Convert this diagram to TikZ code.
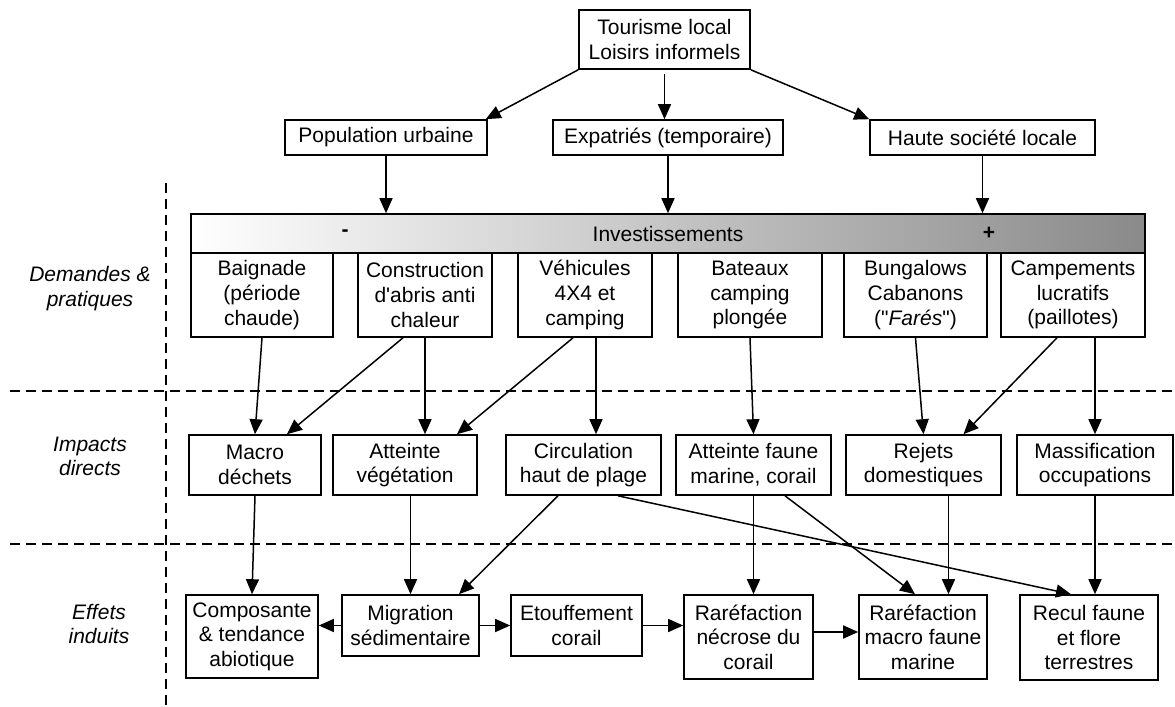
\documentclass[tikz,border=0pt]{standalone}
\usepackage{fontspec}
\newfontfamily\arial{Liberation Sans}
\usepackage{tikz}
\usetikzlibrary{arrows.meta}
\definecolor{BarGray}{HTML}{8A8A8A}

\begin{document}
\begin{tikzpicture}[
        x=0.5pt, y=-0.5pt,
        every node/.style={font=\arial\fontsize{10.5}{12.3}\selectfont},
        box/.style={draw,line width=0.8pt,align=center,inner sep=1pt},
        rowb/.style={box,minimum height=17.5pt},
        rowc/.style={box,minimum height=42pt},
        rowd/.style={box,minimum height=30pt},
        tag/.style={align=center,font=\arial\itshape\fontsize{10.5}{12.3}\selectfont},
        arrow/.style={-{Triangle[length=7.5pt,width=6.5pt]},line width=0.75pt},
        sep/.style={dash pattern=on 5pt off 3pt,line width=0.6pt}
      ]
      \useasboundingbox (0,0) rectangle (1175,707);

      \node[box,minimum width=85.5pt,minimum height=29.5pt] (tour) at (664.5,39.5) {Tourisme local\\Loisirs informels};
      \node[rowb,minimum width=101pt] (pop) at (386,137.5) {Population urbaine};
      \node[rowb,minimum width=115pt] (expat) at (668,137.5) {Expatriés (temporaire)};
      \node[rowb,minimum width=112.5pt] (haute) at (982.5,137.5) {Haute société locale};

      \node[box,left color=white,right color=BarGray,minimum width=477pt,minimum height=19.5pt] (invest) at (668,233.5) {Investissements};
      \node (moins) at (345,233.5) {\textbf{-}};
      \node (plus) at (989,233.5) {\textbf{+}};

      \node[rowc,minimum width=71pt] (baign) at (262,295) {Baignade\\(période\\chaude)};
      \node[rowc,minimum width=67pt] (constr) at (425,295) {Construction\\d'abris anti\\chaleur};
      \node[rowc,minimum width=67pt] (vehic) at (585,295) {Véhicules\\4X4 et\\camping};
      \node[rowc,minimum width=72pt] (bateau) at (750,295) {Bateaux\\camping\\plongée};
      \node[rowc,minimum width=71.5pt] (bung) at (915.5,295) {Bungalows\\Cabanons\\("\textit{Farés}")};
      \node[rowc,minimum width=72pt] (camp) at (1073,295) {Campements\\lucratifs\\(paillotes)};

      \node[rowd,minimum width=66pt] (macro) at (255,465) {Macro\\déchets};
      \node[rowd,minimum width=72pt] (vege) at (405,465) {Atteinte\\végétation};
      \node[rowd,minimum width=77.5pt] (circ) at (583.5,465) {Circulation\\haut de plage};
      \node[rowd,minimum width=77.5pt] (faune) at (753.5,465) {Atteinte faune\\marine, corail};
      \node[rowd,minimum width=77.5pt] (rejets) at (923.5,465) {Rejets\\domestiques};
      \node[rowd,minimum width=78pt] (massif) at (1095,465) {Massification\\occupations};

      \node[box,minimum width=66pt,minimum height=41.5pt] (comp) at (252,636.5) {Composante\\\& tendance\\abiotique};
      \node[box,minimum width=68.5pt,minimum height=30.5pt] (migr) at (410.5,625.5) {Migration\\sédimentaire};
      \node[box,minimum width=65.5pt,minimum height=30.5pt] (etouf) at (576.5,625.5) {Etouffement\\corail};
      \node[box,minimum width=64.5pt,minimum height=42pt] (rar1) at (748.5,637) {Raréfaction\\nécrose du\\corail};
      \node[box,minimum width=64pt,minimum height=42pt] (rar2) at (923,637) {Raréfaction\\macro faune\\marine};
      \node[box,minimum width=69pt,minimum height=42.5pt] (recul) at (1089,637.5) {Recul faune\\et flore\\terrestres};

      \node[tag] (demandes) at (90,288.5) {Demandes \&\\pratiques};
      \node[tag] (impacts) at (90,456.5) {Impacts\\directs};
      \node[tag] (effets) at (99,624) {Effets\\induits};

      \draw[sep] (10,391) -- (1175,391);
      \draw[sep] (10,544) -- (1175,544);
      \draw[sep] (166,183) -- (166,707);

      \draw[arrow] (tour.south west) -- ([xshift=-1pt]pop.north east);
      \draw[arrow] ([yshift=-2pt]tour.south) -- (tour.south |- expat.north);
      \draw[arrow] (tour.south east) -- (haute.north west);

      \draw[arrow] (pop.south) -- (pop.south |- invest.north);
      \draw[arrow] (expat.south) -- (expat.south |- invest.north);
      \draw[arrow] (haute.south) -- (haute.south |- invest.north);

      \draw[arrow] (baign.south) -- (macro.north);
      \draw[arrow] ([xshift=-11pt]constr.south) -- ([xshift=16pt]macro.north);
      \draw[arrow] (constr.south) -- (constr.south |- vege.north);
      \draw[arrow] ([xshift=-6pt]vehic.south) -- ([xshift=26pt]vege.north);
      \draw[arrow] ([xshift=5.5pt]vehic.south) -- ([xshift=5.5pt]vehic.south |- circ.north);
      \draw[arrow] (bateau.south) -- (faune.north);
      \draw[arrow] (bung.south) -- (rejets.north);
      \draw[arrow] ([xshift=-8pt]camp.south) -- ([xshift=20pt]rejets.north);
      \draw[arrow] (massif.north |- camp.south) -- (massif.north);

      \draw[arrow] (macro.south) -- (comp.north);
      \draw[arrow] (migr.north |- vege.south) -- (migr.north);
      \draw[arrow] ([xshift=-12.75pt]circ.south) -- ([xshift=24.25pt]migr.north);
      \draw[arrow] ([xshift=17.25pt]circ.south) -- ([xshift=-9pt]recul.north);
      \draw[arrow] (faune.south) -- (faune.south |- rar1.north);
      \draw[arrow] ([xshift=15.75pt]faune.south) -- ([xshift=-4pt]rar2.north);
      \draw[arrow] ([xshift=12.5pt]rejets.south) -- ([xshift=12.5pt]rejets.south |- rar2.north);
      \draw[arrow] (massif.south) -- (massif.south |- recul.north);

      \draw[arrow] (migr.west) -- (comp.east |- migr.west);
      \draw[arrow] (migr.east) -- (etouf.west);
      \draw[arrow] (etouf.east) -- (etouf.east -| rar1.west);
      \draw[arrow] ([yshift=2.5pt]rar1.east) -- ([yshift=2.5pt]rar2.west);
    \end{tikzpicture}
\end{document}
